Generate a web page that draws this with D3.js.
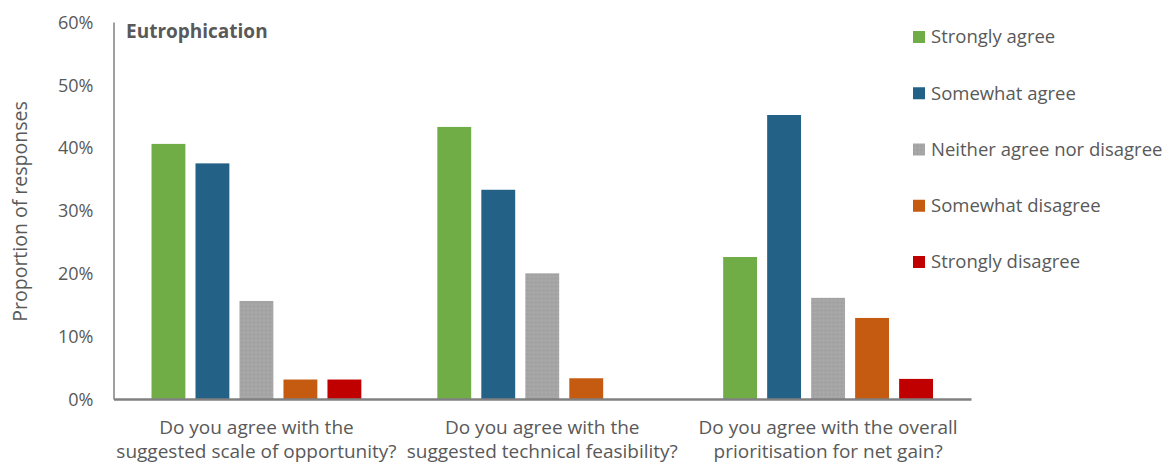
<!DOCTYPE html>
<html>
<head>
<meta charset="utf-8">
<script src="https://cdn.jsdelivr.net/npm/d3@7"></script>
<style>
  html, body { margin: 0; padding: 0; background: #fff; }
  svg text { font-family: "Open Sans", "Noto Sans", sans-serif; fill: #595959; }
</style>
</head>
<body>
<svg id="chart" width="1167" height="462"></svg>
<script>
// Survey questions (x categories), each label split into two lines
const questions = [
  ["Do you agree with the", "suggested scale of opportunity?"],
  ["Do you agree with the", "suggested technical feasibility?"],
  ["Do you agree with the overall", "prioritisation for net gain?"]
];
const responses = ["Strongly agree", "Somewhat agree", "Neither agree nor disagree", "Somewhat disagree", "Strongly disagree"];
const colors = ["#70AD47", "#236186", "#A5A5A5", "#C55A11", "#C00000"];

// Share of responses per answer, one array per question
const q1Values = [0.406, 0.375, 0.156, 0.031, 0.031];
const q2Values = [0.433, 0.333, 0.200, 0.033, 0.000];
const q3Values = [0.226, 0.452, 0.161, 0.129, 0.032];
const yTicks = [0, 0.1, 0.2, 0.3, 0.4, 0.5, 0.6];

const seriesByQuestion = [q1Values, q2Values, q3Values];

const svg = d3.select("#chart");
const margin = { left: 113.5, right: 1167 - 971, top: 22, bottom: 462 - 399 };
const width = 1167 - margin.left - margin.right;
const height = 462 - margin.top - margin.bottom;

const g = svg.append("g").attr("transform", `translate(${margin.left},${margin.top})`);

const x0 = d3.scaleBand().domain(d3.range(questions.length)).range([0, width]).paddingInner(0).paddingOuter(0);
const x1 = d3.scaleBand().domain(d3.range(responses.length)).range([38, x0.bandwidth() - 38]).paddingInner(0.23).paddingOuter(0);
const y = d3.scaleLinear().domain([0, 0.6]).range([height, 0]);

// texture for the neutral bars
const defs = svg.append("defs");
const pat = defs.append("pattern").attr("id", "grain").attr("width", 4).attr("height", 4).attr("patternUnits", "userSpaceOnUse");
pat.append("rect").attr("width", 4).attr("height", 4).attr("fill", "#A5A5A5");
pat.append("rect").attr("x", 0).attr("y", 0).attr("width", 1).attr("height", 1).attr("fill", "#999");
pat.append("rect").attr("x", 2).attr("y", 2).attr("width", 1).attr("height", 1).attr("fill", "#B0B0B0");

// Bars
const groups = g.selectAll("g.q").data(seriesByQuestion).join("g")
  .attr("class", "q")
  .attr("transform", (d, i) => `translate(${x0(i)},0)`);

groups.selectAll("rect").data(d => d.map((v, k) => ({ v, k }))).join("rect")
  .attr("x", d => x1(d.k))
  .attr("width", x1.bandwidth())
  .attr("y", d => y(d.v))
  .attr("height", d => y(0) - y(d.v))
  .attr("fill", d => d.k === 2 ? "url(#grain)" : colors[d.k]);

// Y axis
const yAxis = d3.axisLeft(y).tickValues(yTicks).tickFormat(d3.format(".0%")).tickSize(0).tickPadding(20);
const ya = g.append("g").call(yAxis);
ya.select(".domain").attr("stroke", "#808080").attr("stroke-width", 1.5);
ya.selectAll("text").style("font-size", "18px").attr("fill", "#595959").attr("dy", "0.35em");

// X axis
const xa = g.append("g").attr("transform", `translate(0,${height})`)
  .call(d3.axisBottom(x0).tickSize(0).tickFormat(""));
xa.select(".domain").attr("stroke", "#808080").attr("stroke-width", 2.5);
xa.selectAll(".tick").each(function (d) {
  const t = d3.select(this).append("text").attr("text-anchor", "middle").style("font-size", "19px").attr("fill", "#595959");
  questions[d].forEach((line, li) => {
    t.append("tspan").attr("x", 0).attr("y", 35 + li * 23.5).text(line);
  });
});

// Title
g.append("text").attr("x", 12.5).attr("y", 16).style("font-size", "19px").style("font-weight", "bold").text("Eutrophication");

// Y axis label
svg.append("text")
  .attr("transform", "translate(27,211.5) rotate(-90)")
  .attr("text-anchor", "middle")
  .style("font-size", "19.5px")
  .text("Proportion of responses");

// Legend
const legend = svg.append("g").attr("transform", "translate(913,0)");
const rowY = d3.scalePoint().domain(responses).range([37, 262]);
responses.forEach((r, k) => {
  const row = legend.append("g").attr("transform", `translate(0,${rowY(r)})`);
  row.append("rect").attr("x", 0).attr("y", -6).attr("width", 12).attr("height", 12)
    .attr("fill", k === 2 ? "url(#grain)" : colors[k]);
  row.append("text").attr("x", 18).attr("dy", "0.35em").style("font-size", "18.5px").text(r);
});
</script>
</body>
</html>
